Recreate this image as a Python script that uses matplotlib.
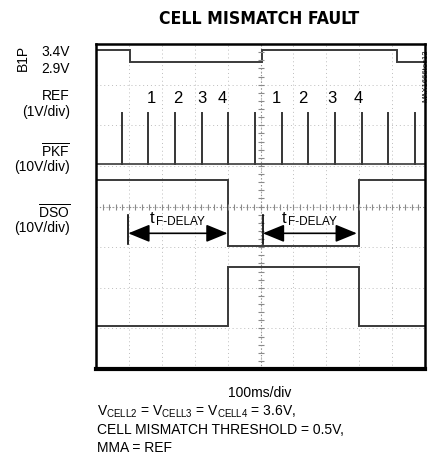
import numpy as np
import matplotlib.pyplot as plt
from matplotlib.patches import FancyArrowPatch
from matplotlib import font_manager

plt.rcParams['font.family'] = ['Liberation Sans', 'DejaVu Sans']
plt.rcParams['mathtext.fontset'] = 'custom'
plt.rcParams['mathtext.rm'] = 'Liberation Sans'
plt.rcParams['mathtext.it'] = 'Liberation Sans:italic'
plt.rcParams['mathtext.bf'] = 'Liberation Sans:bold'

# x in divisions (100ms/div), y in screen divisions (0..8)
b1p_edges = [0, 1.03, 5.05, 9.15, 10]
b1p_level = [7.86, 7.56, 7.86, 7.56]
ref_pulse_t = [0.78, 1.59, 2.40, 3.22, 4.02, 4.83, 5.64, 6.45, 7.26, 8.07, 8.88, 9.69]
ref_base = 5.05
ref_peak = 6.30
pkf_edges = [0, 4.0, 8.0, 10]
pkf_level = [4.66, 3.03, 4.66]
dso_edges = [0, 4.0, 8.0, 10]
dso_level = [1.07, 2.52, 1.07]
delay_start = [0.98, 5.07]
delay_end = [4.0, 7.93]
delay_y = 3.34
cell_num = ['1', '2', '3', '4', '1', '2', '3', '4']
cell_num_t = [1.67, 2.48, 3.21, 3.85, 5.49, 6.30, 7.16, 7.97]
cell_num_y = 6.67

W, H = 431, 474
fig = plt.figure(figsize=(W / 100, H / 100), dpi=100)
ax = fig.add_axes([96 / W, 1 - 369 / H, 329 / W, 325 / H])
ax.set_xlim(0, 10)
ax.set_ylim(0, 8)
ax.set_xticks([])
ax.set_yticks([])
for s in ax.spines.values():
    s.set_linewidth(1.8)
ax.spines['bottom'].set_linewidth(3)

# graticule
gc = '#bdbdbd'
for xv in range(1, 10):
    ax.axvline(xv, color=gc, lw=0.7, ls=(0, (1, 3)), zorder=0)
for yv in range(1, 8):
    ax.axhline(yv, color=gc, lw=0.7, ls=(0, (1, 3)), zorder=0)
ax.axvline(5, color='#8a8a8a', lw=0.8, ls=(0, (1, 2)), zorder=0)
ax.axhline(4, color='#8a8a8a', lw=0.8, ls=(0, (1, 2)), zorder=0)
tk = np.arange(0, 10.01, 0.2)
ax.plot(tk, np.full_like(tk, 4), ls='none', marker='|', ms=4, color='#8a8a8a', mew=0.8)
tk = np.arange(0, 8.01, 0.2)
ax.plot(np.full_like(tk, 5), tk, ls='none', marker='_', ms=4, color='#8a8a8a', mew=0.8)

tc = '#3a3a3a'
ax.stairs(b1p_level, b1p_edges, baseline=None, color=tc, lw=1.4)
rx = np.concatenate([[0], np.repeat(ref_pulse_t, 3), [10]])
ry = np.concatenate([[ref_base], np.tile([ref_base, ref_peak, ref_base], len(ref_pulse_t)), [ref_base]])
ax.plot(rx, ry, color=tc, lw=1.2)
ax.stairs(pkf_level, pkf_edges, baseline=None, color=tc, lw=1.4)
ax.stairs(dso_level, dso_edges, baseline=None, color=tc, lw=1.4)

for t, s in zip(cell_num_t, cell_num):
    ax.text(t, cell_num_y, s, ha='center', va='center', fontsize=12)

for a, b in zip(delay_start, delay_end):
    ax.plot([a, a], [3.08, 3.79], color='black', lw=1.2)
    ax.add_patch(FancyArrowPatch((a, delay_y), (b, delay_y),
                                 arrowstyle='<|-|>,head_length=1.1,head_width=0.45',
                                 color='black', lw=1.2, mutation_scale=12,
                                 shrinkA=0, shrinkB=0))
    xm = (a + b) / 2
    ax.text(xm - 0.86, delay_y + 0.26, 't', ha='left', va='baseline', fontsize=12)
    ax.text(xm - 0.66, delay_y + 0.21, 'F-DELAY', ha='left', va='baseline', fontsize=8.5)


def ft(px, py, s, **kw):
    fig.text(px / W, 1 - py / H, s, **kw)


title_font = font_manager.FontProperties(family='DejaVu Sans', stretch='condensed',
                                         weight='bold', size=12.6)
ft(259, 19, 'CELL MISMATCH FAULT', ha='center', va='center', fontproperties=title_font)
ft(23, 58, 'B1P', ha='center', va='center', rotation=90, fontsize=10)
ft(70, 52, '3.4V', ha='right', va='center', fontsize=10)
ft(70, 69, '2.9V', ha='right', va='center', fontsize=10)
ft(70, 96, 'REF', ha='right', va='center', fontsize=10)
ft(70, 112, '(1V/div)', ha='right', va='center', fontsize=10)
ft(70, 151, r'$\overline{\mathregular{PKF}}$', ha='right', va='center', fontsize=10)
ft(70, 167, '(10V/div)', ha='right', va='center', fontsize=10)
ft(70, 212, r'$\overline{\mathregular{DSO}}$', ha='right', va='center', fontsize=10)
ft(70, 228, '(10V/div)', ha='right', va='center', fontsize=10)
ft(426, 76, 'MAX1666toc13', ha='center', va='center', rotation=90, fontsize=5.5)

ft(260, 393, '100ms/div', ha='center', va='center', fontsize=10)
ft(97, 412, r'$\mathregular{V_{CELL2}}$ = $\mathregular{V_{CELL3}}$ = $\mathregular{V_{CELL4}}$ = 3.6V,',
   ha='left', va='center', fontsize=10)
ft(97, 430, 'CELL MISMATCH THRESHOLD = 0.5V,', ha='left', va='center', fontsize=10)
ft(97, 448, 'MMA = REF', ha='left', va='center', fontsize=10)

fig.savefig('out.png', dpi=100)
